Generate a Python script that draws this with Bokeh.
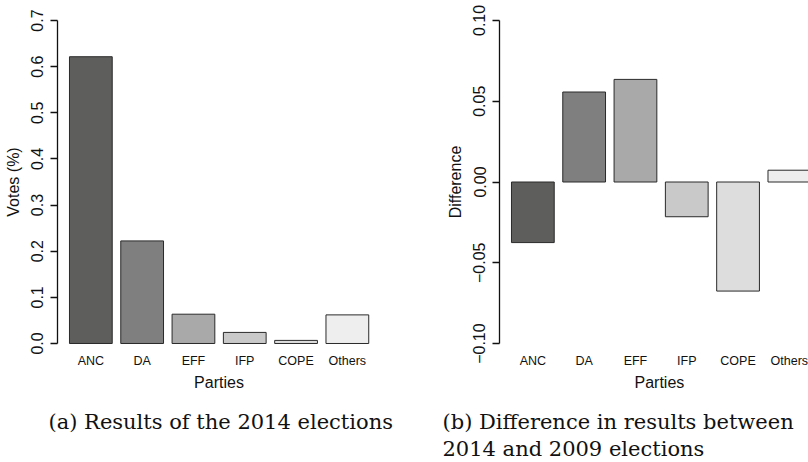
from bokeh.plotting import figure
from bokeh.layouts import row
from bokeh.models import (FixedTicker, PrintfTickFormatter, CustomJSTickFormatter,
                          Title, Range1d, ColumnDataSource)
from bokeh.embed import file_html
from bokeh.resources import INLINE

# ---- data ----
parties = ["ANC", "DA", "EFF", "IFP", "COPE", "Others"]
votes_2014 = [0.6215, 0.2223, 0.0635, 0.0240, 0.0067, 0.0620]
diff_2014_2009 = [-0.0375, 0.0557, 0.0635, -0.0215, -0.0675, 0.0073]
bar_colors = ["#5e5e5c", "#7f7f7f", "#a8a9a8", "#c8c9c8", "#dcdddc", "#eeeeee"]
votes_ticks = [0.0, 0.1, 0.2, 0.3, 0.4, 0.5, 0.6, 0.7]
diff_ticks = [-0.10, -0.05, 0.0, 0.05, 0.10]

positions = list(range(len(parties)))
BAR_W = 1 / 1.2          # R barplot: width 1, space 0.2
SANS = "Liberation Sans"
SERIF = "DejaVu Serif"


def make_source(vals):
    return ColumnDataSource(dict(x=positions, top=[max(v, 0) for v in vals],
                                 bottom=[min(v, 0) for v in vals],
                                 color=bar_colors, party=parties))


def style(p, ticks, bounds, fmt, ylabel):
    p.xgrid.visible = False
    p.ygrid.visible = False
    p.outline_line_color = None
    p.background_fill_color = "white"
    p.border_fill_color = "white"

    xa = p.xaxis[0]
    xa.ticker = FixedTicker(ticks=positions)
    xa.major_label_overrides = {i: n for i, n in enumerate(parties)}
    xa.axis_line_color = None
    xa.major_tick_line_color = None
    xa.minor_tick_line_color = None
    xa.major_tick_out = 0
    xa.major_tick_in = 0
    xa.major_label_text_font = SANS
    xa.major_label_text_font_size = "12.5px"
    xa.major_label_text_color = "#111111"
    xa.major_label_standoff = -3

    ya = p.yaxis[0]
    ya.ticker = FixedTicker(ticks=ticks)
    ya.bounds = bounds
    ya.formatter = fmt
    ya.axis_line_color = "#111111"
    ya.axis_line_width = 1.3
    ya.major_tick_line_color = "#111111"
    ya.major_tick_line_width = 1.3
    ya.major_tick_out = 7
    ya.major_tick_in = 0
    ya.minor_tick_line_color = None
    ya.major_label_orientation = "vertical"
    ya.major_label_text_font = SANS
    ya.major_label_text_font_size = "16px"
    ya.major_label_text_color = "#111111"
    ya.major_label_standoff = 7
    ya.axis_label = ylabel
    ya.axis_label_text_font = SANS
    ya.axis_label_text_font_size = "16px"
    ya.axis_label_text_font_style = "normal"
    ya.axis_label_text_color = "#111111"
    ya.axis_label_standoff = 7


# ---- panel (a) ----
p1 = figure(frame_width=323, frame_height=349,
            x_range=Range1d(-0.65, 5.646), y_range=Range1d(-0.0282, 0.7282),
            output_backend="svg", toolbar_location=None,
            min_border_left=57, min_border_right=20, min_border_top=7,
            min_border_bottom=0)
p1.vbar(x="x", top="top", bottom="bottom", width=BAR_W, fill_color="color",
        line_color="#2a2a2a", line_width=1, source=make_source(votes_2014))
style(p1, votes_ticks, (0, 0.7), PrintfTickFormatter(format="%.1f"), "Votes (%)")
p1.add_layout(Title(text="Parties", align="center", text_font=SANS,
                    text_font_size="16px", text_font_style="normal",
                    text_color="#111111", standoff=2), "below")
p1.add_layout(Title(text="(a) Results of the 2014 elections", align="left",
                    offset=-9, text_font=SERIF, text_font_size="21px",
                    text_font_style="normal", text_color="#111111",
                    standoff=32), "below")

# ---- panel (b) ----
diff_fmt = CustomJSTickFormatter(
    code="return (tick < 0 ? '\\u2212' : '') + Math.abs(tick).toFixed(2);")
p2 = figure(frame_width=309, frame_height=349,
            x_range=Range1d(-0.65, 5.373), y_range=Range1d(-0.108, 0.108),
            output_backend="svg", toolbar_location=None,
            min_border_left=99, min_border_right=0, min_border_top=7,
            min_border_bottom=0)
p2.vbar(x="x", top="top", bottom="bottom", width=BAR_W, fill_color="color",
        line_color="#2a2a2a", line_width=1, source=make_source(diff_2014_2009))
style(p2, diff_ticks, (-0.1, 0.1), diff_fmt, "Difference")
p2.add_layout(Title(text="Parties", align="left", offset=135, text_font=SANS,
                    text_font_size="16px", text_font_style="normal",
                    text_color="#111111", standoff=2), "below")
p2.add_layout(Title(text="(b) Difference in results between\n2014 and 2009 elections",
                    align="left", offset=-57, text_font=SERIF,
                    text_font_size="21px", text_font_style="normal",
                    text_color="#111111", text_line_height=1.15,
                    standoff=32), "below")

layout = row(p1, p2)
open("out.html", "w").write(file_html(layout, INLINE))
